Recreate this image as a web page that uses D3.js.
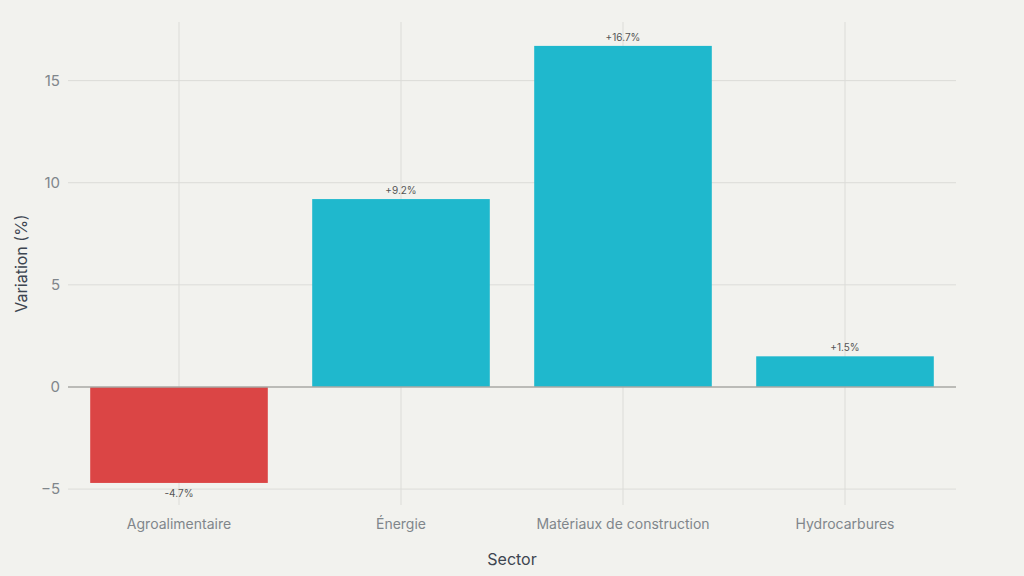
<!DOCTYPE html>
<html><head><meta charset="utf-8">
<script src="https://cdn.jsdelivr.net/npm/d3@7"></script>
<style>html,body{margin:0;padding:0;background:#F2F2EE;}svg{display:block;font-family:Inter,"Noto Sans",sans-serif;}</style>
</head><body>
<svg id="c" width="1024" height="576"></svg>
<script>
const categories = ["Agroalimentaire", "Énergie", "Matériaux de construction", "Hydrocarbures"];
const values = [-4.7, 9.2, 16.7, 1.5];
const labels = ["-4.7%", "+9.2%", "+16.7%", "+1.5%"];
const yTicks = [-5, 0, 5, 10, 15];

const svg = d3.select("#c");
const W = 1024, H = 576;
const m = {l: 68, r: 68, t: 22, b: 71};
svg.append("rect").attr("width", W).attr("height", H).attr("fill", "#F2F2EE");

const x = d3.scaleBand().domain(categories).range([m.l, W - m.r]).paddingInner(0.2).paddingOuter(0.1);
const y = d3.scaleLinear().domain([-5.78, 17.87]).range([H - m.b, m.t]);

const g = svg.append("g");
// vertical gridlines
g.selectAll(".vg").data(categories).join("line")
  .attr("x1", d => x(d) + x.bandwidth()/2).attr("x2", d => x(d) + x.bandwidth()/2)
  .attr("y1", m.t).attr("y2", H - m.b).attr("stroke", "#DCDCD8").attr("stroke-width", 1);
// horizontal gridlines
g.selectAll(".hg").data(yTicks.filter(t => t !== 0)).join("line")
  .attr("x1", m.l).attr("x2", W - m.r)
  .attr("y1", d => y(d)).attr("y2", d => y(d)).attr("stroke", "#DCDCD8").attr("stroke-width", 1);

// bars
g.selectAll(".bar").data(values).join("rect")
  .attr("x", (d, i) => x(categories[i]))
  .attr("width", x.bandwidth())
  .attr("y", d => y(Math.max(0, d)))
  .attr("height", d => Math.abs(y(d) - y(0)))
  .attr("fill", d => d < 0 ? "#DB4545" : "#1FB8CD");

// zero line
g.append("line").attr("x1", m.l).attr("x2", W - m.r).attr("y1", y(0)).attr("y2", y(0))
  .attr("stroke", "#A8A8A4").attr("stroke-width", 1.5);

// bar labels
g.selectAll(".lbl").data(values).join("text")
  .attr("x", (d, i) => x(categories[i]) + x.bandwidth()/2)
  .attr("y", d => d < 0 ? y(d) + 14 : y(d) - 5)
  .attr("text-anchor", "middle").attr("font-size", 10).attr("fill", "#555")
  .text((d, i) => labels[i]);

// y tick labels
g.selectAll(".yt").data(yTicks).join("text")
  .attr("x", 60).attr("y", d => y(d)).attr("dy", "0.35em")
  .attr("text-anchor", "end").attr("font-size", 15).attr("fill", "#80868B")
  .text(d => d < 0 ? "\u2212" + Math.abs(d) : d);

// x tick labels
g.selectAll(".xt").data(categories).join("text")
  .attr("x", d => x(d) + x.bandwidth()/2).attr("y", 529)
  .attr("text-anchor", "middle").attr("font-size", 14).attr("fill", "#80868B")
  .text(d => d);

// axis titles
svg.append("text").attr("x", (m.l + W - m.r)/2).attr("y", 565).attr("text-anchor", "middle")
  .attr("font-size", 16).attr("fill", "#3D4550").text("Sector");
svg.append("text").attr("transform", `translate(27,${(m.t + H - m.b)/2}) rotate(-90)`)
  .attr("text-anchor", "middle").attr("font-size", 16).attr("fill", "#3D4550").text("Variation (%)");
</script>
</body></html>
